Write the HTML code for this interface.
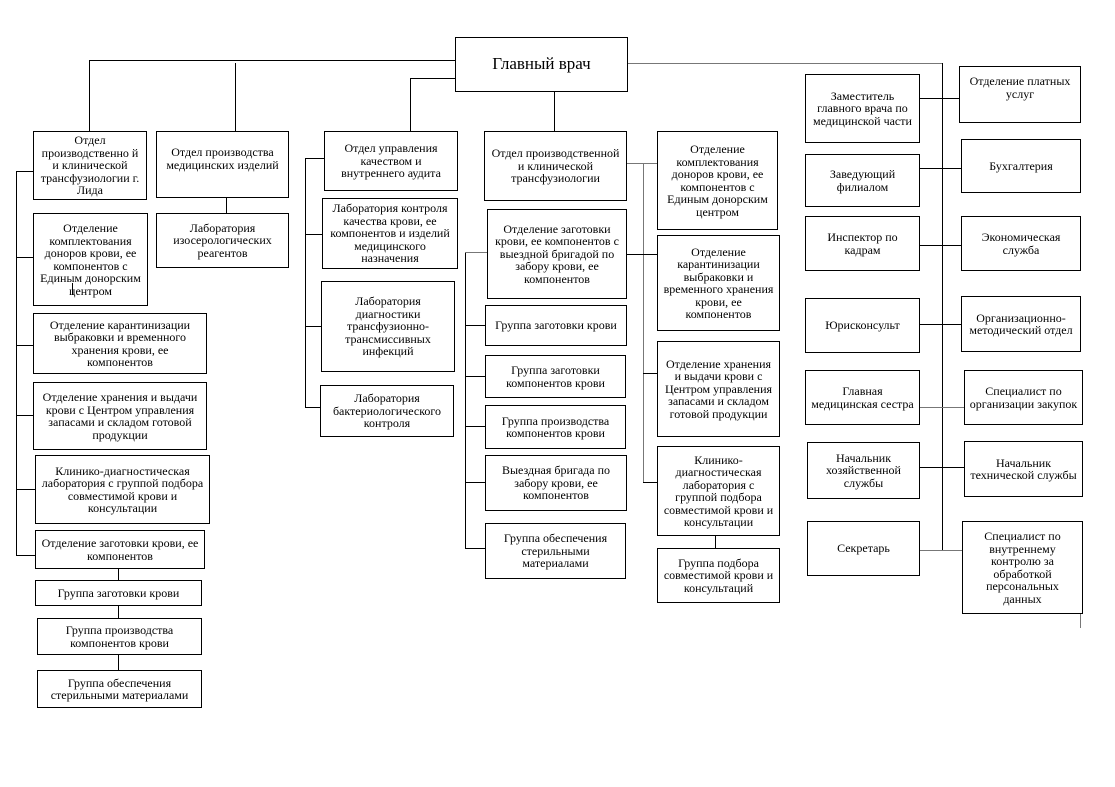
<!DOCTYPE html><html><head><meta charset="utf-8"><style>
body{margin:0;width:1115px;height:787px;background:#fff;position:relative;overflow:hidden;font-family:"Liberation Serif",serif;}
.b{position:absolute;border:1px solid #000;box-sizing:border-box;display:flex;align-items:center;justify-content:center;text-align:center;font-size:12px;line-height:12.5px;color:#000;background:#fff;padding:0 4px}
.h{position:absolute;height:1px;background:#000}
.v{position:absolute;width:1px;background:#000}
.g{background:#777}
</style></head><body>
<div class="h" style="left:89px;top:60px;width:366px"></div>
<div class="v" style="left:89px;top:60px;height:71px"></div>
<div class="v" style="left:235px;top:63px;height:68px"></div>
<div class="h" style="left:410px;top:78px;width:45px"></div>
<div class="v" style="left:410px;top:78px;height:53px"></div>
<div class="v" style="left:554px;top:91px;height:40px"></div>
<div class="h g" style="left:627px;top:63px;width:316px"></div>
<div class="v" style="left:942px;top:63px;height:488px"></div>
<div class="v" style="left:16px;top:171px;height:385px"></div>
<div class="h" style="left:16px;top:171px;width:17px"></div>
<div class="h" style="left:16px;top:257px;width:17px"></div>
<div class="h" style="left:16px;top:345px;width:17px"></div>
<div class="h" style="left:16px;top:415px;width:17px"></div>
<div class="h" style="left:16px;top:489px;width:19px"></div>
<div class="h" style="left:16px;top:555px;width:19px"></div>
<div class="v" style="left:72px;top:283px;height:12px;z-index:2"></div>
<div class="v" style="left:118px;top:568px;height:12px"></div>
<div class="v" style="left:118px;top:605px;height:13px"></div>
<div class="v" style="left:118px;top:654px;height:16px"></div>
<div class="v" style="left:226px;top:197px;height:16px"></div>
<div class="v" style="left:305px;top:158px;height:250px"></div>
<div class="h" style="left:305px;top:158px;width:19px"></div>
<div class="h" style="left:305px;top:234px;width:17px"></div>
<div class="h" style="left:305px;top:326px;width:16px"></div>
<div class="h" style="left:305px;top:407px;width:15px"></div>
<div class="v" style="left:465px;top:252px;height:297px"></div>
<div class="h g" style="left:465px;top:252px;width:22px"></div>
<div class="h" style="left:465px;top:325px;width:20px"></div>
<div class="h" style="left:465px;top:376px;width:20px"></div>
<div class="h" style="left:465px;top:426px;width:20px"></div>
<div class="h" style="left:465px;top:482px;width:20px"></div>
<div class="h" style="left:465px;top:548px;width:20px"></div>
<div class="h g" style="left:626px;top:163px;width:31px"></div>
<div class="v g" style="left:643px;top:163px;height:320px"></div>
<div class="h" style="left:626px;top:254px;width:31px"></div>
<div class="h" style="left:643px;top:373px;width:14px"></div>
<div class="h" style="left:643px;top:482px;width:14px"></div>
<div class="v" style="left:715px;top:535px;height:13px"></div>
<div class="h" style="left:920px;top:98px;width:39px"></div>
<div class="h" style="left:920px;top:168px;width:41px"></div>
<div class="h" style="left:920px;top:245px;width:41px"></div>
<div class="h" style="left:920px;top:324px;width:41px"></div>
<div class="h g" style="left:920px;top:407px;width:44px"></div>
<div class="h" style="left:920px;top:467px;width:44px"></div>
<div class="h g" style="left:920px;top:550px;width:42px"></div>
<div class="v g" style="left:1080px;top:233px;height:15px"></div>
<div class="v g" style="left:1080px;top:600px;height:28px"></div>
<div class="b" style="left:455px;top:37px;width:173px;height:55px;font-size:17px">Главный врач</div>
<div class="b" style="left:33px;top:131px;width:114px;height:69px">Отдел производственно й и клинической трансфузиологии г. Лида</div>
<div class="b" style="left:33px;top:213px;width:115px;height:93px">Отделение комплектования доноров крови, ее компонентов с Единым донорским центром</div>
<div class="b" style="left:33px;top:313px;width:174px;height:61px">Отделение карантинизации выбраковки и временного хранения крови, ее компонентов</div>
<div class="b" style="left:33px;top:382px;width:174px;height:68px">Отделение хранения и выдачи крови с Центром управления запасами и складом готовой продукции</div>
<div class="b" style="left:35px;top:455px;width:175px;height:69px">Клинико-диагностическая лаборатория с группой подбора совместимой крови и консультации</div>
<div class="b" style="left:35px;top:530px;width:170px;height:39px">Отделение заготовки крови, ее компонентов</div>
<div class="b" style="left:35px;top:580px;width:167px;height:26px">Группа заготовки крови</div>
<div class="b" style="left:37px;top:618px;width:165px;height:37px">Группа производства компонентов крови</div>
<div class="b" style="left:37px;top:670px;width:165px;height:38px">Группа обеспечения стерильными материалами</div>
<div class="b" style="left:156px;top:131px;width:133px;height:67px;padding-bottom:12px">Отдел производства медицинских изделий</div>
<div class="b" style="left:156px;top:213px;width:133px;height:55px">Лаборатория изосерологических реагентов</div>
<div class="b" style="left:324px;top:131px;width:134px;height:60px">Отдел управления качеством и внутреннего аудита</div>
<div class="b" style="left:322px;top:198px;width:136px;height:71px">Лаборатория контроля качества крови, ее компонентов и изделий медицинского назначения</div>
<div class="b" style="left:321px;top:281px;width:134px;height:91px">Лаборатория диагностики трансфузионно-трансмиссивных инфекций</div>
<div class="b" style="left:320px;top:385px;width:134px;height:52px">Лаборатория бактериологического контроля</div>
<div class="b" style="left:484px;top:131px;width:143px;height:70px">Отдел производственной и клинической трансфузиологии</div>
<div class="b" style="left:487px;top:209px;width:140px;height:90px">Отделение заготовки крови, ее компонентов с выездной бригадой по забору крови, ее компонентов</div>
<div class="b" style="left:485px;top:305px;width:142px;height:41px">Группа заготовки крови</div>
<div class="b" style="left:485px;top:355px;width:141px;height:43px">Группа заготовки компонентов крови</div>
<div class="b" style="left:485px;top:405px;width:141px;height:44px">Группа производства компонентов крови</div>
<div class="b" style="left:485px;top:455px;width:142px;height:56px">Выездная бригада по забору крови, ее компонентов</div>
<div class="b" style="left:485px;top:523px;width:141px;height:56px">Группа обеспечения стерильными материалами</div>
<div class="b" style="left:657px;top:131px;width:121px;height:99px">Отделение комплектования доноров крови, ее компонентов с Единым донорским центром</div>
<div class="b" style="left:657px;top:235px;width:123px;height:96px">Отделение карантинизации выбраковки и временного хранения крови, ее компонентов</div>
<div class="b" style="left:657px;top:341px;width:123px;height:96px">Отделение хранения и выдачи крови с Центром управления запасами и складом готовой продукции</div>
<div class="b" style="left:657px;top:446px;width:123px;height:90px">Клинико-диагностическая лаборатория с группой подбора совместимой крови и консультации</div>
<div class="b" style="left:657px;top:548px;width:123px;height:55px">Группа подбора совместимой крови и консультаций</div>
<div class="b" style="left:805px;top:74px;width:115px;height:69px">Заместитель главного врача по медицинской части</div>
<div class="b" style="left:805px;top:154px;width:115px;height:53px">Заведующий филиалом</div>
<div class="b" style="left:805px;top:216px;width:115px;height:55px">Инспектор по кадрам</div>
<div class="b" style="left:805px;top:298px;width:115px;height:55px">Юрисконсульт</div>
<div class="b" style="left:805px;top:370px;width:115px;height:55px">Главная медицинская сестра</div>
<div class="b" style="left:807px;top:442px;width:113px;height:57px">Начальник хозяйственной службы</div>
<div class="b" style="left:807px;top:521px;width:113px;height:55px">Секретарь</div>
<div class="b" style="left:959px;top:66px;width:122px;height:57px;padding-bottom:14px">Отделение платных услуг</div>
<div class="b" style="left:961px;top:139px;width:120px;height:54px">Бухгалтерия</div>
<div class="b" style="left:961px;top:216px;width:120px;height:55px">Экономическая служба</div>
<div class="b" style="left:961px;top:296px;width:120px;height:56px">Организационно-методический отдел</div>
<div class="b" style="left:964px;top:370px;width:119px;height:55px">Специалист по организации закупок</div>
<div class="b" style="left:964px;top:441px;width:119px;height:56px">Начальник технической службы</div>
<div class="b" style="left:962px;top:521px;width:121px;height:93px">Специалист по внутреннему контролю за обработкой персональных данных</div>
</body></html>
